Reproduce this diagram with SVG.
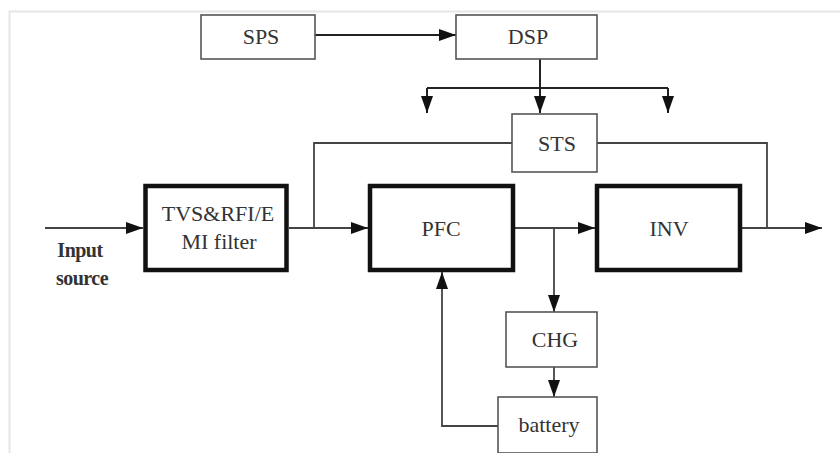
<svg xmlns="http://www.w3.org/2000/svg" width="840" height="453" viewBox="0 0 840 453">
<defs>
<marker id="ah" markerWidth="17" markerHeight="12" refX="17" refY="6" orient="auto" markerUnits="userSpaceOnUse">
<path d="M0,0 L17,6 L0,12 Z" fill="#111"/>
</marker>
<style>
.thin{fill:#fff;stroke:#555;stroke-width:1.6}
.thick{fill:#fff;stroke:#111;stroke-width:4.5}
.ln{fill:none;stroke:#444;stroke-width:1.8}
.lk{fill:none;stroke:#222;stroke-width:2}
.t{font-family:"Liberation Serif","DejaVu Serif","Times New Roman",serif;font-size:22px;fill:#333;text-anchor:middle}
.b{font-family:"Liberation Serif","DejaVu Serif","Times New Roman",serif;font-size:20px;font-weight:bold;fill:#333;text-anchor:middle;letter-spacing:-0.5px}
</style>
</defs>
<rect width="840" height="453" fill="#fff"/>
<path d="M9.5,453 V11.5 H840" fill="none" stroke="#e6e6e6" stroke-width="2"/>
<g id="connectors">
<path class="lk" d="M315,35 H456" marker-end="url(#ah)"/>
<path class="lk" d="M540,59 V88"/>
<path class="lk" d="M427,88 H668"/>
<path class="lk" d="M427,88 V113" marker-end="url(#ah)"/>
<path class="lk" d="M540,88 V113" marker-end="url(#ah)"/>
<path class="lk" d="M668,88 V113" marker-end="url(#ah)"/>
<path class="ln" d="M512,143 H314 V228"/>
<path class="ln" d="M597,143 H767 V228"/>
<path class="ln" d="M45,228 H143" marker-end="url(#ah)"/>
<path class="ln" d="M289,228 H368" marker-end="url(#ah)"/>
<path class="ln" d="M515,228 H595" marker-end="url(#ah)"/>
<path class="ln" d="M554,228 V312" marker-end="url(#ah)"/>
<path class="ln" d="M554,367 V397" marker-end="url(#ah)"/>
<path class="ln" d="M498,426 H442 V272" marker-end="url(#ah)"/>
<path class="ln" d="M742,228 H822" marker-end="url(#ah)"/>
</g>
<g id="sps"><rect class="thin" x="201" y="15" width="114" height="44"/><text class="t" x="261" y="44">SPS</text></g>
<g id="dsp"><rect class="thin" x="456" y="15" width="141" height="44"/><text class="t" x="528" y="44">DSP</text></g>
<g id="sts"><rect class="thin" x="512" y="114" width="85" height="58"/><text class="t" x="557" y="151">STS</text></g>
<g id="filter"><rect class="thick" x="145.5" y="186" width="141" height="84"/><text class="t" x="218" y="221">TVS&amp;RFI/E</text><text class="t" x="219" y="249">MI filter</text></g>
<g id="pfc"><rect class="thick" x="370" y="186" width="143" height="84"/><text class="t" x="441" y="236">PFC</text></g>
<g id="inv"><rect class="thick" x="597" y="186" width="143" height="84"/><text class="t" x="669" y="236">INV</text></g>
<g id="chg"><rect class="thin" x="506" y="312" width="91" height="55"/><text class="t" x="555" y="347">CHG</text></g>
<g id="battery"><rect class="thin" x="498" y="397" width="99" height="56"/><text class="t" x="549" y="432">battery</text></g>
<g id="input"><text class="b" x="80" y="257">Input</text><text class="b" x="82" y="285">source</text></g>
</svg>
